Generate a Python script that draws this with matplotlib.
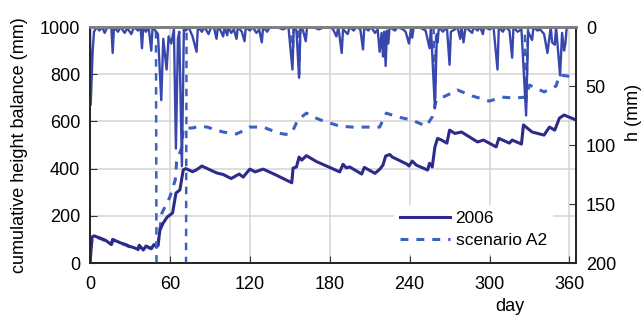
import numpy as np
import matplotlib
matplotlib.use('Agg')
import matplotlib.pyplot as plt
from matplotlib.lines import Line2D

plt.rcParams['font.family'] = ['Liberation Sans', 'DejaVu Sans']

# cumulative height balance (mm), 2006
cum06_day = [0, 1.5, 3, 8, 12, 16, 17, 19, 23, 27, 29, 33, 36, 37, 40, 42, 46, 48, 50, 51,
             52.5, 55, 58, 62, 64.5, 67.5, 70, 72, 77, 80, 84, 90, 95, 100, 106, 112, 115,
             120, 124, 130, 135, 140, 151.5, 152.5, 155, 157, 159, 162.5, 170, 180, 187.5,
             190, 192.5, 195, 204, 206, 214, 217.5, 220, 222, 225, 227, 238, 239.5, 242,
             245, 253.5, 255, 257, 259, 261, 264, 268, 270, 274, 279, 291, 295.5, 305, 307,
             315, 317, 324, 325.5, 332, 341, 345, 349, 352.5, 356, 365]
cum06_val = [0, 110, 115, 105, 95, 78, 100, 95, 85, 78, 72, 65, 58, 75, 55, 72, 62, 78, 68, 75,
             140, 170, 195, 212, 296, 310, 395, 400, 387, 395, 411, 395, 382, 375, 358, 377, 364,
             398, 386, 398, 385, 372, 340, 402, 407, 449, 436, 455, 430, 405, 386,
             418, 403, 407, 377, 405, 380, 397, 415, 453, 460, 449, 419, 411, 432,
             415, 394, 423, 407, 492, 528, 521, 508, 563, 549, 555, 513, 521, 492, 528,
             508, 521, 504, 585, 555, 542, 576, 563, 614, 627, 606]

# cumulative height balance (mm), scenario A2
cumA2_day = [0, 1.5, 3, 8, 12, 16, 17, 19, 23, 27, 29, 33, 36, 37, 40, 42, 46, 48, 50, 51,
             54, 60, 64, 65, 69, 70, 77, 82, 88, 94, 100, 110, 115, 120, 130, 135, 141, 147,
             151.5, 156, 162.5, 168, 175, 187.5, 197, 207.5, 217.5, 222.5, 231, 241.5, 252.5,
             257, 260, 268.5, 276, 287, 300, 309, 319, 327.5, 330, 341, 350, 352.5, 364]
cumA2_val = [0, 108, 113, 103, 93, 76, 98, 93, 83, 76, 70, 63, 56, 73, 53, 70, 60, 76, 66, 73,
             212, 280, 352, 428, 492, 572, 572, 580, 576, 565, 555, 547, 560, 576, 576, 565, 551, 545,
             551, 606, 635, 618, 602, 580, 576, 576, 576, 635, 619, 606, 580,
             619, 690, 712, 733, 708, 686, 703, 699, 703, 754, 725, 750, 797, 788]

# h (mm), 2006
h06_day = [0, 0.5, 2, 3, 5, 7, 9, 11, 13, 16, 17, 18, 21, 23, 26, 28, 31, 33, 36, 38, 39, 40,
           42, 44, 46, 47, 49, 51, 53.5, 55, 57.5, 59, 61, 63, 64.5, 66, 67, 69, 70.5, 72, 74,
           77, 80, 81, 84, 86, 89, 91, 93, 95, 96, 98, 100, 101, 103, 104, 106, 108, 110, 111,
           114, 116, 117, 120, 122, 125, 127, 129, 130, 133, 135, 140, 145, 149, 152, 153, 155,
           157, 158, 160, 162, 163, 167, 172, 176, 181, 183, 185, 186.5, 189, 190, 193.5, 195,
           198, 200, 203, 205, 206, 209, 211, 214, 216, 217.5, 219, 220, 221, 222, 223, 224,
           225, 229, 231, 235, 237, 239.5, 241, 242, 243, 247, 252, 255, 256, 259, 260.5, 261,
           262, 265, 268, 270, 271, 274, 276, 278, 279, 280.5, 282, 285, 287, 288, 291, 293,
           295, 296, 300, 303, 306, 307, 310, 312, 315, 317, 318, 321, 324, 327.5, 329, 332,
           333, 336, 338, 341, 343.5, 345, 346, 347, 349, 350, 353, 354.5, 356, 357, 358, 360,
           365]
h06_val = [0, 66, 20, 4, 0, 3, 0, 5, 0, 0, 22, 0, 4, 0, 5, 1, 6, 0, 3, 0, 18, 0,
           4, 0, 20, 0, 3, 6, 62, 10, 36, 8, 14, 2, 103, 10, 4, 118, 0, 3, 0,
           8, 21, 0, 4, 0, 6, 0, 0, 10, 0, 3, 8, 0, 7, 0, 5, 2, 10, 0,
           4, 12, 0, 3, 0, 5, 2, 13, 0, 4, 0, 0, 2, 0, 36, 0, 3,
           43, 0, 3, 12, 0, 0, 2, 0, 0, 3, 8, 0, 22, 2, 6, 0,
           3, 0, 2, 19, 0, 3, 0, 5, 2, 21, 5, 25, 4, 33, 3, 14,
           0, 3, 0, 2, 4, 14, 2, 9, 0, 0, 3, 18, 0, 69, 6, 13,
           0, 4, 0, 32, 4, 2, 0, 10, 0, 13, 0, 3, 5, 0, 3, 0,
           6, 0, 2, 0, 36, 0, 4, 0, 3, 26, 0, 4, 2, 75, 4, 11,
           0, 3, 2, 6, 22, 9, 0, 13, 15, 0, 41, 5, 20, 14, 0, 0,
           0]

# h (mm), scenario A2 (dry spell runs off the scale)
hA2_day = [0, 49.5, 50, 72, 72.5, 151, 152, 153, 156, 157, 158, 258, 259, 260, 326.5, 327.5, 329, 365]
hA2_val = [0, 0, 250, 250, 0, 0, 30, 0, 0, 40, 0, 0, 60, 0, 0, 65, 0, 0]

navy = '#2e2a8a'
blue = '#3b62c0'
spike = '#3847ad'

fig = plt.figure(figsize=(6.44, 3.22), dpi=100)
ax = fig.add_axes([0.1398, 0.1832, 0.7547, 0.7329])
ax2 = ax.twinx()

ax.plot(cumA2_day, cumA2_val, color=blue, lw=2.2, dashes=(2.6, 2.6), zorder=3)
ax.plot(cum06_day, cum06_val, color=navy, lw=2.2, zorder=4)

ax2.plot(hA2_day, hA2_val, color=blue, lw=1.8, dashes=(3.0, 2.6))
ax2.plot(h06_day, h06_val, color=spike, lw=1.7)

ax.set_xlim(0, 365)
ax.set_ylim(0, 1000)
ax2.set_ylim(200, 0)
ax.set_xticks(np.arange(0, 361, 60))
ax.set_yticks(np.arange(0, 1001, 200))
ax2.set_yticks(np.arange(0, 201, 50))

ax.grid(True, color='#d4d4d4', lw=1.1)
ax.set_axisbelow(True)

ax.tick_params(direction='in', length=5, labelsize=13, pad=7, color='#333333')
ax.tick_params(axis='x', pad=9)
ax2.tick_params(direction='in', length=5, labelsize=13, pad=7, color='#333333')

for a in (ax, ax2):
    for side in ('left', 'bottom', 'right'):
        a.spines[side].set_color('#222222')
        a.spines[side].set_linewidth(1.2)
    a.spines['top'].set_color('#808080')
    a.spines['top'].set_linewidth(2.0)

ax.set_ylabel('cumulative height balance (mm)', fontsize=13)
ax.yaxis.set_label_coords(-0.128, 0.5)
ax2.set_ylabel('h (mm)', fontsize=13)
ax2.yaxis.set_label_coords(1.1, 0.64)
ax.set_xlabel('day', fontsize=13)
ax.xaxis.set_label_coords(0.864, -0.15)

handles = [Line2D([], [], color=navy, lw=2.2),
           Line2D([], [], color=blue, lw=2.2, dashes=(2.6, 2.6))]
leg = ax2.legend(handles, ['2006', 'scenario A2'], loc='lower right',
                 bbox_to_anchor=(0.97, 0.0), fontsize=12.5, frameon=True,
                 handlelength=2.9, handletextpad=0.3, labelspacing=0.4,
                 borderpad=0.35, fancybox=False)
leg.get_frame().set_edgecolor('none')
leg.get_frame().set_facecolor('white')
leg.get_frame().set_alpha(1.0)

fig.savefig('out.png', dpi=100)
